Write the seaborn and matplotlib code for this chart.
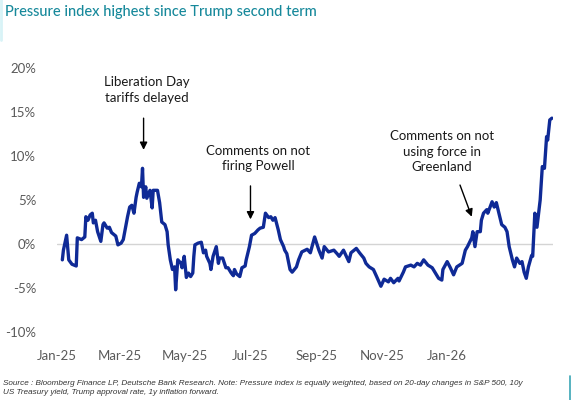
import matplotlib
matplotlib.use("Agg")
import matplotlib.pyplot as plt
import matplotlib.dates as mdates
from matplotlib.lines import Line2D
import seaborn as sns
import pandas as pd

# ---- data (day offset from 2025-01-01, index in %) ----
day_offsets = [5, 6, 9, 11, 14, 18, 19, 23, 26, 27, 29, 31, 33, 34, 36, 38, 41, 43, 44, 47,
               49, 51, 55, 57, 60, 62, 64, 66, 68, 70, 72, 74, 75, 77, 79, 80, 81, 83, 84, 87,
               89, 90, 94, 96, 98, 101, 103, 104, 106, 108, 110, 111, 113, 116, 117, 119, 121, 123, 125, 127,
               128, 129, 132, 135, 137, 139, 140, 143, 144, 146, 149, 151, 152, 155, 158, 160, 163, 165, 166, 168,
               171, 173, 176, 177, 180, 182, 185, 188, 190, 193, 195, 198, 200, 202, 204, 207, 209, 212, 213, 215,
               218, 220, 224, 226, 229, 234, 237, 241, 245, 248, 250, 254, 259, 262, 264, 268, 273, 275, 280, 283,
               287, 289, 292, 296, 299, 303, 306, 310, 312, 315, 319, 320, 324, 326, 331, 334, 337, 340, 343, 347,
               351, 354, 357, 360, 361, 365, 368, 371, 374, 379, 382, 384, 388, 389, 391, 393, 396, 397, 399, 402,
               403, 407, 409, 411, 413, 416, 419, 421, 423, 426, 428, 430, 433, 435, 437, 439, 441, 444, 445, 447,
               449, 452, 454, 456, 458, 459, 461, 463]
pressure = [-1.8, -0.7, 1.0, -1.8, -2.3, -2.5, 0.7, 0.5, 0.8, 3.1, 2.7, 3.3, 3.5, 2.4, 2.7, 1.4, 0.3, 2.2, 2.4, 1.8,
            1.9, 1.3, 0.9, -0.1, 0.1, 0.5, 1.8, 3.1, 4.2, 4.4, 3.5, 5.3, 5.9, 6.9, 6.5, 8.6, 5.3, 6.5, 5.2, 6.1,
            4.1, 6.1, 6.1, 4.7, 2.5, 2.2, 1.4, -0.1, -1.8, -2.9, -2.6, -5.2, -1.8, -2.2, -2.7, -1.4, -3.8, -3.3, -3.7, -3.3,
            -1.4, -0.1, 0.1, 0.2, -1.0, -0.7, -1.4, -2.2, -2.9, -1.4, -0.3, -2.2, -1.6, -1.6, -2.7, -2.7, -3.3, -3.6, -2.9, -3.4,
            -3.7, -2.7, -2.5, -1.8, -0.3, 1.0, 1.2, 1.6, 1.8, 1.9, 3.5, 3.0, 3.1, 2.7, 3.0, 1.6, 0.5, -0.3, -0.7, -1.1,
            -2.9, -3.2, -2.6, -1.8, -0.9, -0.6, -1.0, 0.8, -0.7, -1.6, -0.3, -0.9, -0.7, -1.1, -1.4, -0.7, -2.0, -1.0, -0.5, -1.0,
            -1.6, -2.2, -2.6, -2.9, -3.7, -4.8, -4.0, -4.3, -3.9, -4.4, -3.9, -4.2, -3.2, -2.6, -2.4, -2.6, -2.2, -2.4, -1.8, -2.4,
            -2.7, -3.3, -3.9, -4.1, -2.9, -2.0, -2.7, -3.5, -2.6, -2.2, -0.7, -0.3, 0.7, 1.4, -0.3, 1.4, 1.4, 2.7, 3.5, 3.9,
            3.5, 4.8, 4.2, 4.7, 3.7, 2.2, 1.9, 1.4, -0.3, -1.8, -2.6, -1.6, -2.2, -2.0, -3.2, -3.9, -2.6, -1.3, -1.4, 3.5,
            1.9, 5.0, 8.8, 8.6, 12.2, 11.8, 14.1, 14.3]

y_ticks = [-10, -5, 0, 5, 10, 15, 20]
x_tick_dates = ["2025-01-01", "2025-03-01", "2025-05-01", "2025-07-01",
                "2025-09-01", "2025-11-01", "2026-01-01"]

title = "Pressure index highest since Trump second term"
source = ("Source : Bloomberg Finance LP, Deutsche Bank Research. Note: Pressure index is equally weighted, "
          "based on 20-day changes in S&P 500, 10y\nUS Treasury yield, Trump approval rate, 1y inflation forward.")

# annotations: (text, text day, text value, arrow tail day, tail value, tip day, tip value)
annotations = [
    ("Liberation Day\ntariffs delayed", 84, 17.5, 81, 14.3, 81, 10.7),
    ("Comments on not\nfiring Powell", 188, 9.7, 181, 6.6, 181, 2.8),
    ("Comments on not\nusing force in\nGreenland", 360, 10.5, 377, 6.7, 388, 3.1),
]

# ---- build ----
base = pd.Timestamp("2025-01-01")
df = pd.DataFrame({
    "date": base + pd.to_timedelta(day_offsets, unit="D"),
    "value": pressure,
})

sns.set_theme(style="white")
plt.rcParams["font.family"] = ["Lato", "DejaVu Sans"]

fig = plt.figure(figsize=(5.76, 4.0), dpi=100)
ax = fig.add_axes([57 / 576, 1 - 332 / 400, (553 - 57) / 576, (332 - 68) / 400])

ax.axhline(0, color="#d4d4d4", lw=1.0, zorder=1)
sns.lineplot(data=df, x="date", y="value", ax=ax, color="#0f2a96", lw=2.4, zorder=3)

ax.set_ylim(-10, 20)
ax.set_xlim(df["date"].iloc[0] - pd.Timedelta(days=1), df["date"].iloc[-1] + pd.Timedelta(days=1))
ax.set_yticks(y_ticks)
ax.set_yticklabels([f"{t}%" for t in y_ticks])
ticks = pd.to_datetime(x_tick_dates)
ax.set_xticks(ticks)
ax.set_xticklabels([d.strftime("%b-%y") for d in ticks])
ax.tick_params(axis="both", length=0, labelsize=9.5, colors="#5a5a5a")
ax.tick_params(axis="x", pad=13)
ax.tick_params(axis="y", pad=15)
ax.set_xlabel("")
ax.set_ylabel("")
for s in ax.spines.values():
    s.set_visible(False)
ax.grid(False)

for text, tx, ty, ax_d, ay, px_d, py in annotations:
    ax.text(base + pd.Timedelta(days=tx), ty, text, ha="center", va="center",
            fontsize=9.5, color="#1a1a1a", linespacing=1.35, zorder=4)
    ax.annotate("", xy=(base + pd.Timedelta(days=px_d), py),
                xytext=(base + pd.Timedelta(days=ax_d), ay),
                arrowprops=dict(arrowstyle="-|>", color="black", lw=1.0,
                                mutation_scale=11, shrinkA=0, shrinkB=0),
                zorder=4)

fig.text(5 / 576, 1 - 12 / 400, title, ha="left", va="center",
         fontsize=10.5, color="#17899b", fontweight="medium")
fig.text(3 / 576, 1 - 388 / 400, source, ha="left", va="center",
         fontsize=5.9, style="italic", color="#333333", linespacing=1.3,
         family=["Liberation Sans", "DejaVu Sans"])

# decorative frame marks of the original
fig.add_artist(Line2D([1 / 576, 1 / 576], [1, 1 - 40 / 400], transform=fig.transFigure,
                      color="#d8f3f7", lw=2))
fig.add_artist(Line2D([570 / 576, 570 / 576], [1 - 376 / 400, 0], transform=fig.transFigure,
                      color="#3aa6b5", lw=1.2))

fig.savefig("out.png", dpi=100)
